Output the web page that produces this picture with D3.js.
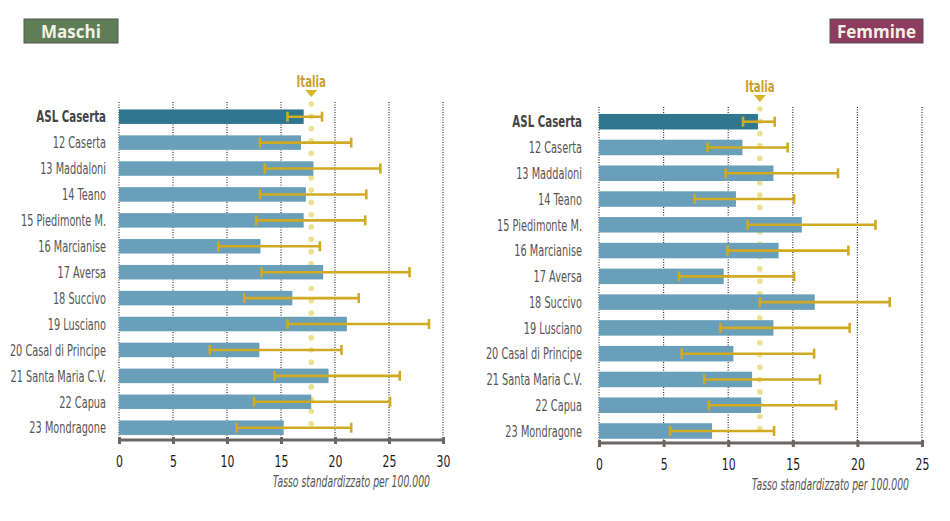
<!DOCTYPE html>
<html>
<head>
<meta charset="utf-8">
<script src="https://cdn.jsdelivr.net/npm/d3@7"></script>
<style>
  body { margin: 0; background: #fff; }
  svg { display: block; font-family: "DejaVu Sans", sans-serif; }
</style>
</head>
<body>
<div id="chart"></div>
<script>
// aree (distretti) della ASL Caserta
var areas = ['ASL Caserta', '12 Caserta', '13 Maddaloni', '14 Teano', '15 Piedimonte M.',
  '16 Marcianise', '17 Aversa', '18 Succivo', '19 Lusciano', '20 Casal di Principe',
  '21 Santa Maria C.V.', '22 Capua', '23 Mondragone'];

// maschi: tasso e intervallo di confidenza
var maschiRate = [17.1, 16.85, 18.0, 17.3, 17.1, 13.1, 18.9, 16.05, 21.1, 13.0, 19.4, 17.8, 15.25];
var maschiLow  = [15.6, 13.05, 13.5, 13.05, 12.7, 9.2, 13.2, 11.6, 15.6, 8.4, 14.4, 12.5, 10.9];
var maschiHigh = [18.8, 21.5, 24.2, 22.9, 22.8, 18.6, 26.9, 22.2, 28.7, 20.6, 26.0, 25.1, 21.5];
var maschiItalia = 17.8;
var maschiTicks = [0, 5, 10, 15, 20, 25, 30];

// femmine: tasso e intervallo di confidenza
var femmineRate = [12.3, 11.1, 13.5, 10.6, 15.7, 13.9, 9.65, 16.7, 13.5, 10.4, 11.85, 12.55, 8.75];
var femmineLow  = [11.15, 8.4, 9.8, 7.4, 11.5, 9.95, 6.2, 12.45, 9.4, 6.4, 8.15, 8.5, 5.5];
var femmineHigh = [13.6, 14.6, 18.5, 15.1, 21.4, 19.3, 15.1, 22.5, 19.4, 16.65, 17.1, 18.35, 13.55];
var femmineItalia = 12.45;
var femmineTicks = [0, 5, 10, 15, 20, 25];

var W = 950, H = 521;
var svg = d3.select('#chart').append('svg')
  .attr('width', W)
  .attr('height', H);

drawPanel({
  title: 'Maschi', titleFill: '#5f7d57', titleX: 24, titleW: 94,
  rate: maschiRate, low: maschiLow, high: maschiHigh, italia: maschiItalia, ticks: maschiTicks,
  x0: 119, x1: 443, yFirst: 116.7, yLast: 427.7, barH: 14.5, gridTop: 102, axisY: 440,
  labelX: 106
});

drawPanel({
  title: 'Femmine', titleFill: '#8c3d5f', titleX: 830, titleW: 93,
  rate: femmineRate, low: femmineLow, high: femmineHigh, italia: femmineItalia, ticks: femmineTicks,
  x0: 599, x1: 922, yFirst: 121.7, yLast: 431, barH: 15.5, gridTop: 107, axisY: 443,
  labelX: 582
});

function drawPanel( c )
{
  var g = svg.append('g');
  var domMax = c.ticks[c.ticks.length - 1];

  var x = d3.scaleLinear().domain([0, domMax]).range([c.x0, c.x1]);
  var y = d3.scalePoint().domain(areas).range([c.yFirst, c.yLast]);

  // title box
  g.append('rect')
    .attr('x', c.titleX).attr('y', 19)
    .attr('width', c.titleW).attr('height', 24)
    .attr('fill', c.titleFill)
    .attr('stroke', '#555').attr('stroke-width', 1);
  g.append('text')
    .attr('x', c.titleX + c.titleW / 2).attr('y', 38)
    .attr('text-anchor', 'middle')
    .attr('fill', '#f4f1e4')
    .style('font-family', '"Open Sans", "Noto Sans", sans-serif')
    .style('font-weight', 'bold')
    .style('font-size', '17px')
    .text(c.title);

  // dotted gridlines
  g.selectAll('line.grid')
    .data(c.ticks)
    .enter()
      .append('line')
      .attr('class', 'grid')
      .attr('x1', function(d) { return x(d); })
      .attr('x2', function(d) { return x(d); })
      .attr('y1', c.gridTop)
      .attr('y2', c.axisY)
      .attr('stroke', '#333')
      .attr('stroke-width', 1.2)
      .attr('stroke-dasharray', '1,1.5');

  // Italia reference: dotted line of circles (behind the bars)
  var dotYs = d3.range(c.gridTop + 2, c.axisY - 4, 12.3);
  g.selectAll('circle.italia')
    .data(dotYs)
    .enter()
      .append('circle')
      .attr('class', 'italia')
      .attr('cx', x(c.italia))
      .attr('cy', function(d) { return d; })
      .attr('r', 2.8)
      .attr('fill', '#ebe28f');

  // bars
  g.selectAll('rect.bar')
    .data(areas)
    .enter()
      .append('rect')
      .attr('class', 'bar')
      .attr('x', x(0))
      .attr('y', function(d) { return y(d) - c.barH / 2; })
      .attr('width', function(d, i) { return x(c.rate[i]) - x(0); })
      .attr('height', c.barH)
      .attr('fill', function(d, i) { return i === 0 ? '#30768f' : '#6a9fb9'; });

  // error bars
  var eb = g.selectAll('g.err')
    .data(areas)
    .enter()
      .append('g')
      .attr('class', 'err')
      .attr('stroke', '#cfaa22')
      .attr('stroke-width', 2.6);
  eb.append('line')
    .attr('x1', function(d, i) { return x(c.low[i]); })
    .attr('x2', function(d, i) { return x(c.high[i]); })
    .attr('y1', function(d) { return y(d); })
    .attr('y2', function(d) { return y(d); });
  eb.append('line')
    .attr('x1', function(d, i) { return x(c.low[i]); })
    .attr('x2', function(d, i) { return x(c.low[i]); })
    .attr('y1', function(d) { return y(d) - 5; })
    .attr('y2', function(d) { return y(d) + 5; });
  eb.append('line')
    .attr('x1', function(d, i) { return x(c.high[i]); })
    .attr('x2', function(d, i) { return x(c.high[i]); })
    .attr('y1', function(d) { return y(d) - 5; })
    .attr('y2', function(d) { return y(d) + 5; });

  // Italia marker
  var ix = x(c.italia);
  g.append('path')
    .attr('d', 'M' + (ix - 6) + ',' + (c.gridTop - 12) + 'L' + (ix + 6) + ',' + (c.gridTop - 12) + 'L' + ix + ',' + (c.gridTop - 5) + 'Z')
    .attr('fill', '#d7b726');
  g.append('text')
    .attr('transform', 'translate(' + ix + ',' + (c.gridTop - 15) + ') scale(0.68,1)')
    .attr('text-anchor', 'middle')
    .attr('fill', '#c9a02c')
    .style('font-weight', 'bold')
    .style('font-size', '15px')
    .text('Italia');

  // category labels (condensed)
  g.selectAll('text.label')
    .data(areas)
    .enter()
      .append('text')
      .attr('class', 'label')
      .attr('transform', function(d, i) { return 'translate(' + c.labelX + ',' + y(d) + ') scale(' + (i === 0 ? 0.64 : 0.61) + ',1)'; })
      .attr('dy', '0.36em')
      .attr('text-anchor', 'end')
      .attr('fill', function(d, i) { return i === 0 ? '#444' : '#555'; })
      .style('font-weight', function(d, i) { return i === 0 ? 'bold' : 'normal'; })
      .style('font-size', '16px')
      .text(function(d) { return d; });

  // x axis
  var axis = g.append('g')
    .attr('transform', 'translate(0,' + c.axisY + ')')
    .call(d3.axisBottom(x).tickValues(c.ticks).tickSize(7).tickPadding(8).tickSizeOuter(0));
  axis.select('.domain').attr('stroke', '#6b6664').attr('stroke-width', 3)
    .attr('d', 'M' + x(0) + ',0H' + x(domMax));
  axis.selectAll('.tick line').attr('stroke', '#6b6664').attr('stroke-width', 3)
    .attr('y1', -3).attr('y2', 4);
  axis.selectAll('.tick text')
    .attr('y', 27).attr('dy', 0)
    .attr('transform', 'scale(0.66,1)')
    .attr('fill', '#1a1a1a')
    .style('font-size', '16.5px')
    .style('font-family', '"DejaVu Sans", sans-serif');

  g.append('text')
    .attr('transform', 'translate(' + (x(domMax) - 13) + ',' + (c.axisY + 47) + ') scale(0.62,1)')
    .attr('text-anchor', 'end')
    .attr('fill', '#555')
    .style('font-style', 'italic')
    .style('font-size', '15px')
    .text('Tasso standardizzato per 100.000');
}
</script>
</body>
</html>
